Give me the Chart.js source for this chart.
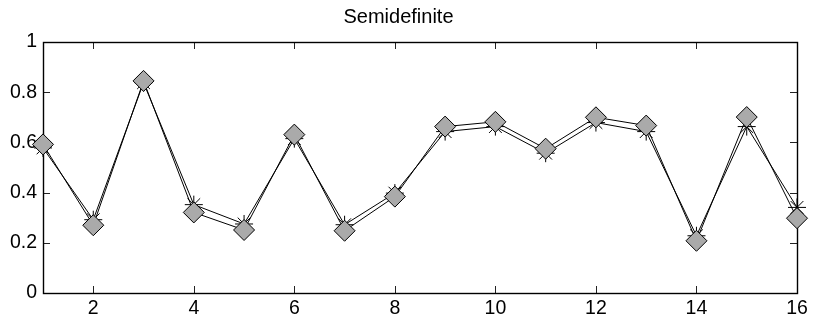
<!DOCTYPE html>
<html>
<head>
<meta charset="utf-8">
<script src="https://cdn.jsdelivr.net/npm/chart.js@4"></script>
<style>
  html, body { margin: 0; padding: 0; background: #ffffff; }
  #wrap { width: 817px; height: 321px; }
</style>
</head>
<body>
<div id="wrap"><canvas id="chart" width="817" height="321"></canvas></div>
<script>
// data
const xValues = [1, 2, 3, 4, 5, 6, 7, 8, 9, 10, 11, 12, 13, 14, 15, 16];
const diamondValues = [0.592, 0.270, 0.845, 0.321, 0.251, 0.631, 0.248, 0.384, 0.663, 0.682, 0.575, 0.700, 0.667, 0.208, 0.701, 0.298];
const starValues = [0.578, 0.292, 0.838, 0.352, 0.275, 0.615, 0.272, 0.398, 0.643, 0.663, 0.557, 0.679, 0.643, 0.228, 0.663, 0.341];
const xTicks = [2, 4, 6, 8, 10, 12, 14, 16];
const yTicks = [0, 0.2, 0.4, 0.6, 0.8, 1];
const titleText = 'Semidefinite';

const fontFamily = '"Liberation Sans", Arial, Helvetica, sans-serif';

function toPoints(values) {
    return values.map(function(v, i) { return { x: xValues[i], y: v }; });
}

// draws the MATLAB style box and the inward tick marks
const boxPlugin = {
    id: 'matlabBox',
    beforeDatasetsDraw: function(chart) {
        const ctx = chart.ctx;
        const area = chart.chartArea;
        const xs = chart.scales.x;
        const ys = chart.scales.y;
        const len = 7;
        ctx.save();
        ctx.strokeStyle = '#222222';
        ctx.lineWidth = 1;
        ctx.beginPath();
        xTicks.forEach(function(v) {
            const px = Math.round(xs.getPixelForValue(v)) + 0.5;
            ctx.moveTo(px, area.bottom);
            ctx.lineTo(px, area.bottom - len);
            ctx.moveTo(px, area.top);
            ctx.lineTo(px, area.top + len);
        });
        yTicks.forEach(function(v) {
            const py = Math.round(ys.getPixelForValue(v)) + 0.5;
            ctx.moveTo(area.left, py);
            ctx.lineTo(area.left + len, py);
            ctx.moveTo(area.right, py);
            ctx.lineTo(area.right - len, py);
        });
        ctx.stroke();
        ctx.strokeStyle = '#000000';
        ctx.lineWidth = 1.4;
        ctx.strokeRect(Math.round(area.left) + 0.5, Math.round(area.top) + 0.5,
            Math.round(area.right - area.left), Math.round(area.bottom - area.top));
        ctx.restore();
    }
};

const ctx = document.getElementById('chart').getContext('2d');
const chart = new Chart(ctx, {
    type: 'line',
    data: {
        datasets: [{
            label: 'diamond',
            data: toPoints(diamondValues),
            borderColor: '#000000',
            borderWidth: 1,
            pointStyle: 'rectRot',
            pointRadius: 10.5,
            pointBackgroundColor: '#aaaaaa',
            pointBorderColor: '#000000',
            pointBorderWidth: 1,
            fill: false,
            tension: 0,
            clip: false
        }, {
            label: 'star',
            data: toPoints(starValues),
            borderColor: '#000000',
            borderWidth: 1,
            pointStyle: 'star',
            pointRadius: 9,
            pointBorderColor: '#000000',
            pointBackgroundColor: '#000000',
            pointBorderWidth: 1,
            fill: false,
            tension: 0,
            clip: false
        }]
    },
    plugins: [boxPlugin],
    options: {
        responsive: false,
        animation: false,
        events: [],
        layout: { padding: { left: 0, right: 20, top: 0, bottom: 0 } },
        scales: {
            x: {
                type: 'linear',
                min: 1,
                max: 16,
                grid: { display: false, drawTicks: false },
                border: { display: false },
                afterBuildTicks: function(scale) {
                    scale.ticks = xTicks.map(function(v) { return { value: v }; });
                },
                afterFit: function(scale) { scale.height = 28; },
                ticks: {
                    padding: 4,
                    maxRotation: 0,
                    autoSkip: false,
                    color: '#000000',
                    font: { family: fontFamily, size: 19.5 }
                }
            },
            y: {
                type: 'linear',
                min: 0,
                max: 1,
                grid: { display: false, drawTicks: false },
                border: { display: false },
                afterBuildTicks: function(scale) {
                    scale.ticks = yTicks.map(function(v) { return { value: v }; });
                },
                afterFit: function(scale) { scale.width = 43; },
                ticks: {
                    padding: 6,
                    autoSkip: false,
                    color: '#000000',
                    font: { family: fontFamily, size: 19.5 },
                    callback: function(value) { return String(Math.round(value * 10) / 10); }
                }
            }
        },
        plugins: {
            legend: { display: false },
            tooltip: { enabled: false },
            title: {
                display: true,
                text: titleText,
                color: '#000000',
                font: { family: fontFamily, size: 20, weight: 'normal', lineHeight: 1.2 },
                padding: { top: 5, bottom: 13 }
            }
        }
    }
});
</script>
</body>
</html>
